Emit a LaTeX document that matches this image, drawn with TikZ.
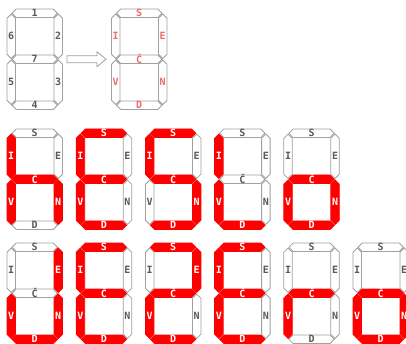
\documentclass[tikz,border=0pt]{standalone}
\usepackage{fontspec}
\newfontfamily\segfont{DejaVu Sans Mono}
\definecolor{segred}{HTML}{FF0000}
\definecolor{seggray}{HTML}{A0A0A0}
\definecolor{labgray}{HTML}{5A5A5A}
\definecolor{labpink}{HTML}{F26A6A}
\def\sx{47}\def\sy{46}\def\hw{4.25}\def\gp{0.8}
\newcommand\hseg[4]{%
  \filldraw[#4] (#1+\gp,#3) -- (#1+\gp+\hw,#3-\hw) -- (#2-\gp-\hw,#3-\hw) -- (#2-\gp,#3) -- (#2-\gp-\hw,#3+\hw) -- (#1+\gp+\hw,#3+\hw) -- cycle;}
\newcommand\vseg[4]{%
  \filldraw[#4] (#1,#2+\gp) -- (#1+\hw,#2+\gp+\hw) -- (#1+\hw,#3-\gp-\hw) -- (#1,#3-\gp) -- (#1-\hw,#3-\gp-\hw) -- (#1-\hw,#2+\gp+\hw) -- cycle;}
\def\tS{S}\def\tI{I}\def\tE{E}\def\tC{Č}\def\tV{V}\def\tN{N}\def\tD{D}
\newcommand\Digit[4]{\def\ox{#2}\def\oy{#3}\def\dn{#1}\DigitAux#4}
\def\DigitAux#1#2#3#4#5#6#7{%
  \pgfmathsetmacro\xa{\ox+\hw}\pgfmathsetmacro\xb{\xa+\sx}%
  \pgfmathsetmacro\xm{\xa+\sx/2}%
  \pgfmathsetmacro\ya{\oy+\hw}\pgfmathsetmacro\yb{\ya+\sy}\pgfmathsetmacro\yc{\yb+\sy}%
  \pgfmathsetmacro\ym{\ya+\sy/2}\pgfmathsetmacro\yn{\yb+\sy/2}%
  \hseg{\xa}{\xb}{\ya}{seg#1}%
  \vseg{\xa}{\ya}{\yb}{seg#2}%
  \vseg{\xb}{\ya}{\yb}{seg#3}%
  \hseg{\xa}{\xb}{\yb}{seg#4}%
  \vseg{\xa}{\yb}{\yc}{seg#5}%
  \vseg{\xb}{\yb}{\yc}{seg#6}%
  \hseg{\xa}{\xb}{\yc}{seg#7}%
  \node[lab#1] (\dn-S) at (\xm,\ya) {\tS};
  \node[lab#2] (\dn-I) at (\xa,\ym) {\tI};
  \node[lab#3] (\dn-E) at (\xb,\ym) {\tE};
  \node[lab#4] (\dn-C) at (\xm,\yb) {\tC};
  \node[lab#5] (\dn-V) at (\xa,\yn) {\tV};
  \node[lab#6] (\dn-N) at (\xb,\yn) {\tN};
  \node[lab#7] (\dn-D) at (\xm,\yc) {\tD};
}
\begin{document}
\begin{tikzpicture}[x=1pt,y=-1pt,
  seg1/.style={fill=segred,draw=segred,line width=0.8pt,line join=miter},
  seg0/.style={fill=white,draw=seggray,line width=0.8pt,line join=miter},
  labbase/.style={inner sep=0pt,font=\segfont\bfseries\fontsize{10}{10}\selectfont},
  lab1/.style={labbase,text=white},
  lab0/.style={labbase,text=labgray}]
\useasboundingbox (0,0) rectangle (406,344);
\clip (0,0) rectangle (406,344);
% top row
\begin{scope}
\def\tS{1}\def\tE{2}\def\tN{3}\def\tD{4}\def\tV{5}\def\tI{6}\def\tC{7}
\Digit{n}{7}{9}{0000000}
\end{scope}
\begin{scope}[lab0/.style={labbase,text=labpink}]
\Digit{m}{111.5}{9}{0000000}
\end{scope}
\draw[seggray,line width=0.8pt,fill=white] (67,55.75) -- (97,55.75) -- (97,51.75) -- (106,59.25) -- (97,66.75) -- (97,62.75) -- (67,62.75) -- cycle;
% second row
\Digit{a1}{7}{129}{0101110}
\Digit{a2}{76.2}{129}{1101101}
\Digit{a3}{145.4}{129}{1101011}
\Digit{a4}{214.6}{129}{0100101}
\Digit{a5}{283.8}{129}{0001111}
% third row
\Digit{b1}{7}{243}{0010111}
\Digit{b2}{76.2}{243}{1101101}
\Digit{b3}{145.4}{243}{1011101}
\Digit{b4}{214.6}{243}{1101101}
\Digit{b5}{283.8}{243}{0001100}
\Digit{b6}{353}{243}{0001111}
\end{tikzpicture}
\end{document}
